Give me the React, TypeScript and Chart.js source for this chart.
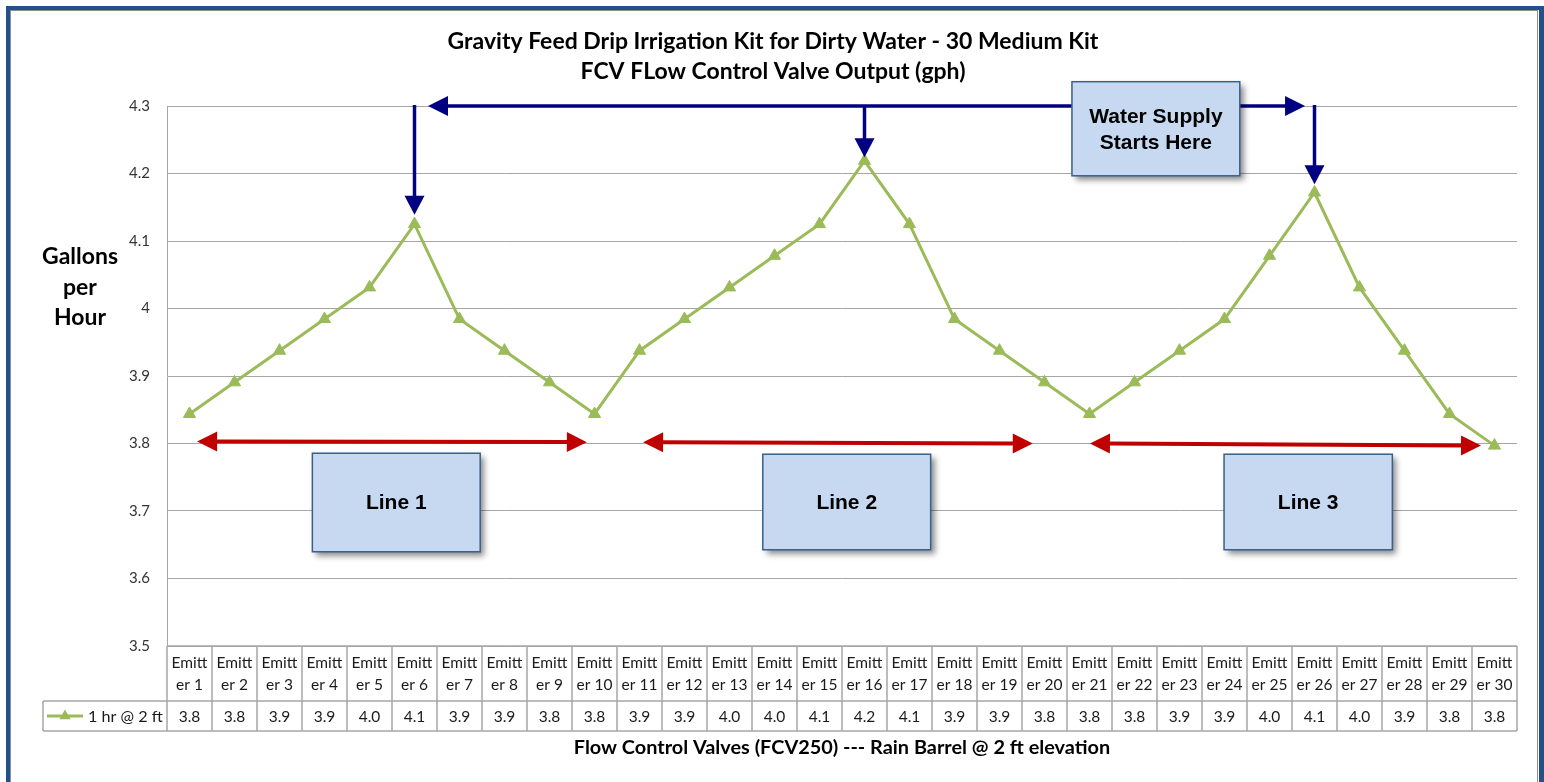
import React, { useEffect, useRef } from "react";
import { Chart, registerables } from "chart.js";

Chart.register(...registerables);

// ---------- data ----------
const categories = [
  "Emitter 1", "Emitter 2", "Emitter 3", "Emitter 4", "Emitter 5",
  "Emitter 6", "Emitter 7", "Emitter 8", "Emitter 9", "Emitter 10",
  "Emitter 11", "Emitter 12", "Emitter 13", "Emitter 14", "Emitter 15",
  "Emitter 16", "Emitter 17", "Emitter 18", "Emitter 19", "Emitter 20",
  "Emitter 21", "Emitter 22", "Emitter 23", "Emitter 24", "Emitter 25",
  "Emitter 26", "Emitter 27", "Emitter 28", "Emitter 29", "Emitter 30",
];

const flowGph = [
  3.84375, 3.890625, 3.9375, 3.984375, 4.03125, 4.125, 3.984375, 3.9375, 3.890625, 3.84375,
  3.9375, 3.984375, 4.03125, 4.078125, 4.125, 4.21875, 4.125, 3.984375, 3.9375, 3.890625,
  3.84375, 3.890625, 3.9375, 3.984375, 4.078125, 4.171875, 4.03125, 3.9375, 3.84375, 3.796875,
];

const tableLabels = [
  "3.8", "3.8", "3.9", "3.9", "4.0", "4.1", "3.9", "3.9", "3.8", "3.8",
  "3.9", "3.9", "4.0", "4.0", "4.1", "4.2", "4.1", "3.9", "3.9", "3.8",
  "3.8", "3.8", "3.9", "3.9", "4.0", "4.1", "4.0", "3.9", "3.8", "3.8",
];

const seriesName = "1 hr @ 2 ft";
const yMin = 3.5;
const yMax = 4.3;
const yStep = 0.1;

const titleLines = [
  "Gravity Feed Drip Irrigation Kit for Dirty Water - 30 Medium Kit",
  "FCV FLow Control Valve Output (gph)",
];
const yTitleLines = ["Gallons", "per", "Hour"];
const xTitle = "Flow Control Valves (FCV250) --- Rain Barrel @ 2 ft elevation";

// annotations (in category-index / value coordinates)
const supplyDropIndex = [5, 15, 25];
const supplyDropEnd = [4.139, 4.224, 4.184];
const supplyLineFrom = 5.3;
const supplyLineTo = 24.79;
const supplyLineValue = 4.3;
const supplyBox = { x0: 19.61, x1: 23.34, y0: 4.336, y1: 4.1966, text: ["Water Supply", "Starts Here"] };

const lineNames = ["Line 1", "Line 2", "Line 3"];
const spanFrom = [0.17, 10.08, 20.01];
const spanTo = [8.83, 18.74, 28.7];
const spanValueFrom = [3.803, 3.802, 3.8];
const spanValueTo = [3.802, 3.8, 3.797];
const lineBoxX0 = [2.73, 12.74, 22.99];
const lineBoxX1 = [6.46, 16.47, 26.73];
const lineBoxY0 = [3.7856, 3.7841, 3.7841];
const lineBoxY1 = [3.6396, 3.6426, 3.6426];

// ---------- styles ----------
const GREEN = "#9bbb59";
const GRID = "#a6a6a6";
const NAVY = "#000080";
const RED = "#c00000";
const FRAME_BLUE = "#23508a";
const BOX_FILL = "#c6d9f1";
const BOX_BORDER = "#3a5f8f";
const CAL = "Lato, 'Open Sans', sans-serif";
const ARIAL = "'Liberation Sans', Arial, sans-serif";

function fitSize(ctx: CanvasRenderingContext2D, text: string, weight: string, family: string, target: number) {
  ctx.font = `${weight} 100px ${family}`;
  const w = ctx.measureText(text).width;
  return (100 * target) / w;
}

function arrow(
  ctx: CanvasRenderingContext2D,
  x0: number, y0: number, x1: number, y1: number,
  color: string, width: number, headStart: boolean, headEnd: boolean,
  len = 20, half = 10
) {
  const dx = x1 - x0, dy = y1 - y0;
  const d = Math.hypot(dx, dy);
  const ux = dx / d, uy = dy / d;
  const sx = headStart ? x0 + ux * (len - 2) : x0;
  const sy = headStart ? y0 + uy * (len - 2) : y0;
  const ex = headEnd ? x1 - ux * (len - 2) : x1;
  const ey = headEnd ? y1 - uy * (len - 2) : y1;
  ctx.save();
  ctx.strokeStyle = color;
  ctx.fillStyle = color;
  ctx.lineWidth = width;
  ctx.lineCap = "butt";
  ctx.beginPath();
  ctx.moveTo(sx, sy);
  ctx.lineTo(ex, ey);
  ctx.stroke();
  const head = (tx: number, ty: number, dirx: number, diry: number) => {
    const bx = tx - dirx * len, by = ty - diry * len;
    ctx.beginPath();
    ctx.moveTo(tx, ty);
    ctx.lineTo(bx - diry * half, by + dirx * half);
    ctx.lineTo(bx + diry * half, by - dirx * half);
    ctx.closePath();
    ctx.fill();
  };
  if (headEnd) head(x1, y1, ux, uy);
  if (headStart) head(x0, y0, -ux, -uy);
  ctx.restore();
}

function box(ctx: CanvasRenderingContext2D, x0: number, y0: number, x1: number, y1: number, lines: string[]) {
  ctx.save();
  ctx.shadowColor = "rgba(0,0,0,0.45)";
  ctx.shadowBlur = 6;
  ctx.shadowOffsetX = 4;
  ctx.shadowOffsetY = 4;
  ctx.fillStyle = BOX_FILL;
  ctx.fillRect(x0, y0, x1 - x0, y1 - y0);
  ctx.restore();
  ctx.save();
  ctx.strokeStyle = BOX_BORDER;
  ctx.lineWidth = 1.5;
  ctx.strokeRect(x0, y0, x1 - x0, y1 - y0);
  ctx.fillStyle = "#000";
  ctx.font = `bold 21px ${ARIAL}`;
  ctx.textAlign = "center";
  ctx.textBaseline = "middle";
  const cx = (x0 + x1) / 2;
  const cy = (y0 + y1) / 2;
  const lh = 26;
  lines.forEach((t, i) => {
    ctx.fillText(t, cx, cy + (i - (lines.length - 1) / 2) * lh + 1);
  });
  ctx.restore();
}

function triangle(ctx: CanvasRenderingContext2D, x: number, y: number, r: number) {
  ctx.beginPath();
  for (let k = 0; k < 3; k++) {
    const a = (k * 2 * Math.PI) / 3;
    const px = x + Math.sin(a) * r;
    const py = y - Math.cos(a) * r;
    if (k === 0) ctx.moveTo(px, py);
    else ctx.lineTo(px, py);
  }
  ctx.closePath();
  ctx.fill();
}

const overlay = {
  id: "overlay",
  afterDraw(chart: any) {
    const { ctx, chartArea, scales } = chart;
    const xs = scales.x;
    const ys = scales.y;
    const X = (i: number) => xs.getPixelForValue(i);
    const Y = (v: number) => ys.getPixelForValue(v);
    const n = categories.length;
    const colW = (chartArea.right - chartArea.left) / n;

    // frame
    ctx.save();
    ctx.fillStyle = "#8f8f8f";
    ctx.fillRect(10, 10, 1528, 1);
    ctx.fillRect(10, 10, 1, 780);
    ctx.fillRect(1537, 10, 1, 780);
    ctx.fillStyle = FRAME_BLUE;
    ctx.fillRect(6, 6, 1538, 4);
    ctx.fillRect(6, 6, 4, 780);
    ctx.fillRect(1539, 6, 5, 780);
    ctx.restore();

    // titles
    ctx.save();
    ctx.fillStyle = "#000";
    ctx.textAlign = "center";
    ctx.textBaseline = "middle";
    const tSize = fitSize(ctx, titleLines[0], "bold", CAL, 651);
    ctx.font = `bold ${tSize}px ${CAL}`;
    ctx.fillText(titleLines[0], 773, 42);
    ctx.fillText(titleLines[1], 773, 72);

    const ySize = fitSize(ctx, yTitleLines[0], "bold", CAL, 76);
    ctx.font = `bold ${ySize}px ${CAL}`;
    yTitleLines.forEach((t, i) => ctx.fillText(t, 80, 257 + i * 30.5));

    const xSize = fitSize(ctx, xTitle, "bold", CAL, 537);
    ctx.font = `bold ${xSize}px ${CAL}`;
    ctx.fillText(xTitle, 842, 748);
    ctx.restore();

    // data table
    const top = chartArea.bottom;
    const mid = top + 55;
    const bot = mid + 30;
    const legendLeft = 43;
    ctx.save();
    ctx.strokeStyle = GRID;
    ctx.lineWidth = 1.5;
    ctx.beginPath();
    ctx.moveTo(chartArea.left, top);
    ctx.lineTo(chartArea.right, top);
    ctx.moveTo(legendLeft, mid);
    ctx.lineTo(chartArea.right, mid);
    ctx.moveTo(legendLeft, bot);
    ctx.lineTo(chartArea.right, bot);
    for (let k = 0; k <= n; k++) {
      const x = chartArea.left + k * colW;
      ctx.moveTo(x, top);
      ctx.lineTo(x, bot);
    }
    ctx.moveTo(legendLeft, mid);
    ctx.lineTo(legendLeft, bot);
    ctx.stroke();

    ctx.fillStyle = "#1a1a1a";
    ctx.textAlign = "center";
    ctx.textBaseline = "middle";
    ctx.font = `15.5px ${CAL}`;
    categories.forEach((c, i) => {
      const cx = X(i);
      ctx.fillText(c.slice(0, 5), cx, top + 17);
      ctx.fillText(c.slice(5), cx, top + 39);
      ctx.fillText(tableLabels[i], cx, mid + 15.5);
    });

    // legend key
    const ly = mid + 15;
    ctx.strokeStyle = GREEN;
    ctx.lineWidth = 3;
    ctx.beginPath();
    ctx.moveTo(47, ly);
    ctx.lineTo(83, ly);
    ctx.stroke();
    ctx.fillStyle = GREEN;
    triangle(ctx, 65, ly, 6.5);
    ctx.fillStyle = "#1a1a1a";
    ctx.textAlign = "left";
    const lSize = fitSize(ctx, seriesName, "normal", CAL, 75);
    ctx.font = `${lSize}px ${CAL}`;
    ctx.fillText(seriesName, 88, ly + 0.5);
    ctx.restore();

    // water supply arrows
    arrow(ctx, X(supplyLineFrom), Y(supplyLineValue), X(supplyLineTo), Y(supplyLineValue), NAVY, 3.5, true, true);
    supplyDropIndex.forEach((idx, k) => {
      arrow(ctx, X(idx), Y(supplyLineValue) - 1, X(idx), Y(supplyDropEnd[k]), NAVY, 3.5, false, true, 19, 10);
    });

    // line spans
    lineNames.forEach((_, k) => {
      arrow(ctx, X(spanFrom[k]), Y(spanValueFrom[k]), X(spanTo[k]), Y(spanValueTo[k]), RED, 4, true, true);
    });

    // boxes
    box(ctx, X(supplyBox.x0), Y(supplyBox.y0), X(supplyBox.x1), Y(supplyBox.y1), supplyBox.text);
    lineNames.forEach((name, k) => {
      box(ctx, X(lineBoxX0[k]), Y(lineBoxY0[k]), X(lineBoxX1[k]), Y(lineBoxY1[k]), [name]);
    });
  },
};

export default function App() {
  const ref = useRef<HTMLCanvasElement>(null);
  useEffect(() => {
    document.body.style.margin = "0";
    const canvas = ref.current!;
    const chart = new Chart(canvas, {
      type: "line",
      data: {
        labels: categories,
        datasets: [
          {
            label: seriesName,
            data: flowGph,
            borderColor: GREEN,
            backgroundColor: GREEN,
            borderWidth: 3,
            pointStyle: "triangle",
            pointRadius: 7,
            pointBorderWidth: 1,
            pointBackgroundColor: GREEN,
            pointBorderColor: GREEN,
            tension: 0,
          },
        ],
      },
      options: {
        responsive: false,
        animation: false,
        devicePixelRatio: 1,
        layout: { padding: { left: 0, top: 106, right: 27, bottom: 136 } },
        plugins: {
          legend: { display: false },
          title: { display: false },
          tooltip: { enabled: false },
        },
        scales: {
          x: { type: "category", offset: true, display: false },
          y: {
            min: yMin,
            max: yMax,
            ticks: {
              stepSize: yStep,
              padding: 17,
              color: "#333",
              font: { family: CAL, size: 15 },
              callback: (v: any) => {
                const s = Number(v).toFixed(1);
                return s.endsWith(".0") ? s.slice(0, -2) : s;
              },
            },
            grid: { color: GRID, lineWidth: 1, drawTicks: false },
            border: { display: true, color: GRID, width: 1 },
            afterFit: (s: any) => {
              s.width = 167;
            },
          },
        },
      } as any,
      plugins: [overlay],
    });
    return () => chart.destroy();
  }, []);
  return (
    <div style={{ position: "fixed", left: 0, top: 0, width: 1544, height: 782, background: "#fff" }}>
      <canvas ref={ref} width={1544} height={782} style={{ display: "block", width: 1544, height: 782 }} />
    </div>
  );
}
